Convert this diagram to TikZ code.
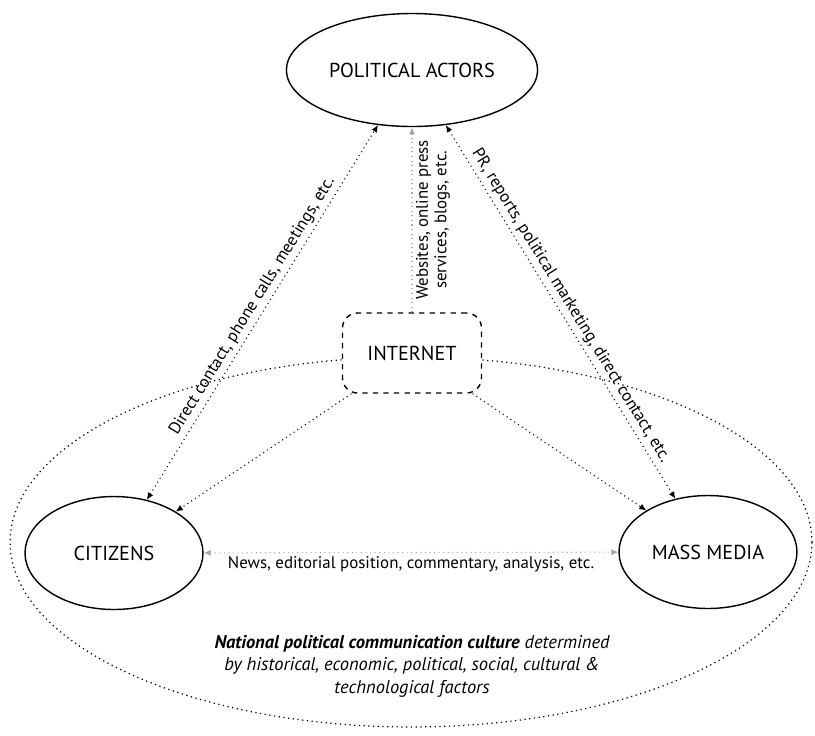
\documentclass[tikz,border=0pt]{standalone}
\usepackage{fontspec}
\setmainfont{PT Sans}
\usetikzlibrary{positioning,shapes.geometric,arrows.meta}

\tikzset{
    actor/.style={draw, ellipse, line width=0.8pt, minimum width=3.56cm, minimum height=2.26cm,
        font=\fontsize{11.5}{13}\selectfont},
    netbox/.style={draw, dashed, line width=0.8pt, rounded corners=0.3cm, fill=white,
        minimum width=2.78cm, minimum height=1.6cm, font=\fontsize{11.5}{13}\selectfont},
    flow/.style={dotted, line width=0.6pt},
    faint/.style={draw=black!35},
    twoway/.style={{Latex[length=4pt,width=3.5pt]}-{Latex[length=4pt,width=3.5pt]}},
    oneway/.style={-{Latex[length=4pt,width=3.5pt]}},
    lbl/.style={font=\fontsize{9.6}{10.5}\selectfont, inner sep=2pt, solid}
}

\begin{document}
\begin{tikzpicture}[x=0.02cm, y=-0.02cm]
    \useasboundingbox (0,0) rectangle (815,735);
    % culture area
    \node (NC) [draw, ellipse, dotted, line width=0.7pt, minimum width=16.04cm, minimum height=7.4cm] at (411,542) {};
    \node (TX) [align=center, font=\itshape\fontsize{10.5}{12.8}\selectfont] at (412,666)
        {\textbf{National political communication culture} determined\\
         by historical, economic, political, social, cultural \&\\
         technological factors};
    % actors
    \node (PA) [actor] at (412,70) {POLITICAL ACTORS};
    \node (CI) [actor] at (114,553) {CITIZENS};
    \node (MM) [actor] at (708,552) {MASS MEDIA};
    \node (IN) [netbox] at (412,353) {INTERNET};
    \draw[flow]
        (CI) edge[twoway] node[lbl, sloped, above] {Direct contact, phone calls, meetings, etc.} (PA)
        (PA) edge[twoway] node[lbl, sloped, above] {PR, reports, political marketing, direct contact, etc.} (MM)
        (IN) edge[oneway, faint] node[lbl, sloped, below, align=center, text=black] {Websites, online press\\services, blogs, etc.} (PA)
        (IN) edge[oneway] (CI)
        (IN) edge[oneway] (MM)
        (CI) edge[twoway, faint] node[lbl, below, text=black] {News, editorial position, commentary, analysis, etc.} (MM);
\end{tikzpicture}
\end{document}
